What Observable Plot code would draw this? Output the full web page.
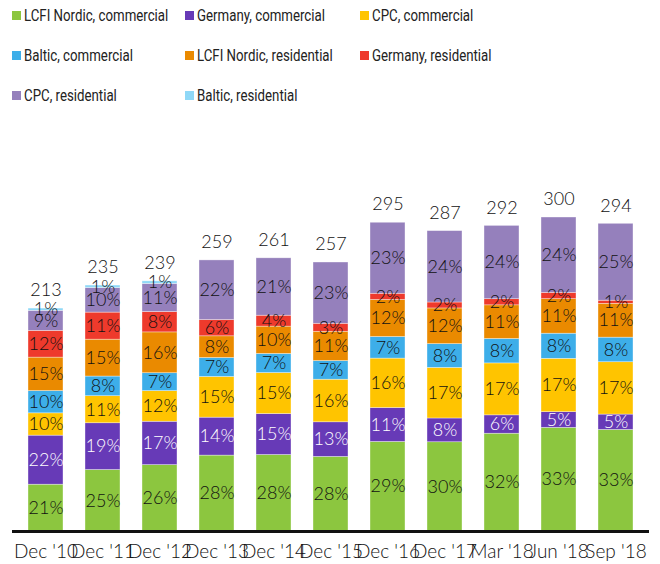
<!DOCTYPE html>
<html><head><meta charset="utf-8">
<script src="https://cdn.jsdelivr.net/npm/d3@7"></script>
<script src="https://cdn.jsdelivr.net/npm/@observablehq/plot@0.6"></script>
<style>
body{margin:0;background:#fff;}
#legend{position:relative;height:110px;width:660px;font-family:Roboto,sans-serif;font-size:17px;color:#222;}
.item{position:absolute;display:flex;align-items:center;white-space:nowrap;}
.sw{width:9px;height:9px;margin-right:3px;flex:none;}
.txt{display:inline-block;transform:scaleX(0.78);transform-origin:left center;}
</style>
</head><body>
<div id="legend"></div>
<div id="chart"></div>
<script>
const periods = ["Dec '10","Dec '11","Dec '12","Dec '13","Dec '14","Dec '15","Dec '16","Dec '17","Mar '18","Jun '18","Sep '18"];
const totals = [213,235,239,259,261,257,295,287,292,300,294];
const seriesNames = ["LCFI Nordic, commercial","Germany, commercial","CPC, commercial","Baltic, commercial","LCFI Nordic, residential","Germany, residential","CPC, residential","Baltic, residential"];
const seriesColors = ["#8cc63f","#673ab7","#ffc400","#3daee9","#ea8a00","#ee3a2c","#9580bc","#8fd8f7"];
const lcfiNordicCom = [21,25,26,28,28,28,29,30,32,33,33];
const germanyCom    = [22,19,17,14,15,13,11,8,6,5,5];
const cpcCom        = [10,11,12,15,15,16,16,17,17,17,17];
const balticCom     = [10,8,7,7,7,7,7,8,8,8,8];
const lcfiNordicRes = [15,15,16,8,10,11,12,12,11,11,11];
const germanyRes    = [12,11,8,6,4,3,2,2,2,2,1];
const cpcRes        = [9,10,11,22,21,23,23,24,24,24,25];
const balticRes     = [1,1,1,0,0,0,0,0,0,0,0];
const seriesPct = [lcfiNordicCom,germanyCom,cpcCom,balticCom,lcfiNordicRes,germanyRes,cpcRes,balticRes];

// legend
const legend = document.getElementById("legend");
const colX = [12,185,360], rowY = [15,55,95];
seriesNames.forEach((n,i)=>{
  const el = document.createElement("div");
  el.className="item";
  el.style.left = colX[i%3]+"px";
  el.style.top = (rowY[Math.floor(i/3)]-11)+"px";
  el.style.height="22px";
  el.innerHTML = `<span class="sw" style="background:${seriesColors[i]}"></span><span class="txt">${n}</span>`;
  legend.appendChild(el);
});

const rows = [];
periods.forEach((p,j)=>{
  const sum = d3.sum(seriesPct, s=>s[j]);
  seriesPct.forEach((s,i)=>{
    rows.push({period:p, series:seriesNames[i], pct:s[j], value:s[j]/sum*totals[j]});
  });
});
const totRows = periods.map((p,j)=>({period:p,total:totals[j]}));
const font = "Lato, sans-serif";
const lab = (d)=> d.pct>0 ? d.pct+"%" : "";
const chart = Plot.plot({
  width:660, height:454,
  marginLeft:12, marginRight:11, marginTop:107, marginBottom:33,
  style:{fontFamily:font, fontSize:"19px", fontWeight:300, background:"white", color:"#111"},
  x:{domain:periods, paddingInner:0.38, paddingOuter:0.19, label:null, tickSize:0, tickPadding:13},
  y:{domain:[0,300], axis:null},
  color:{domain:seriesNames, range:seriesColors},
  marks:[
    Plot.barY(rows, Plot.stackY({x:"period", y:"value", fill:"series", stroke:"white", strokeWidth:0.6, strokeOpacity:0.6})),
    Plot.text(rows, Plot.stackY({x:"period", y:"value", z:"series", text:d=> d.series==="Germany, commercial" ? "" : lab(d), fill:"#111", fontSize:18, fontWeight:300})),
    Plot.text(rows, Plot.stackY({x:"period", y:"value", z:"series", text:d=> d.series==="Germany, commercial" ? lab(d) : "", fill:"white", fontSize:18, fontWeight:300})),
    Plot.text(totRows, {x:"period", y:"total", text:d=>String(d.total), dy:-18, fill:"#111", fontSize:18, fontWeight:300}),
    Plot.ruleY([0], {stroke:"#111", strokeWidth:3})
  ]
});
document.getElementById("chart").appendChild(chart);
</script>
</body></html>
